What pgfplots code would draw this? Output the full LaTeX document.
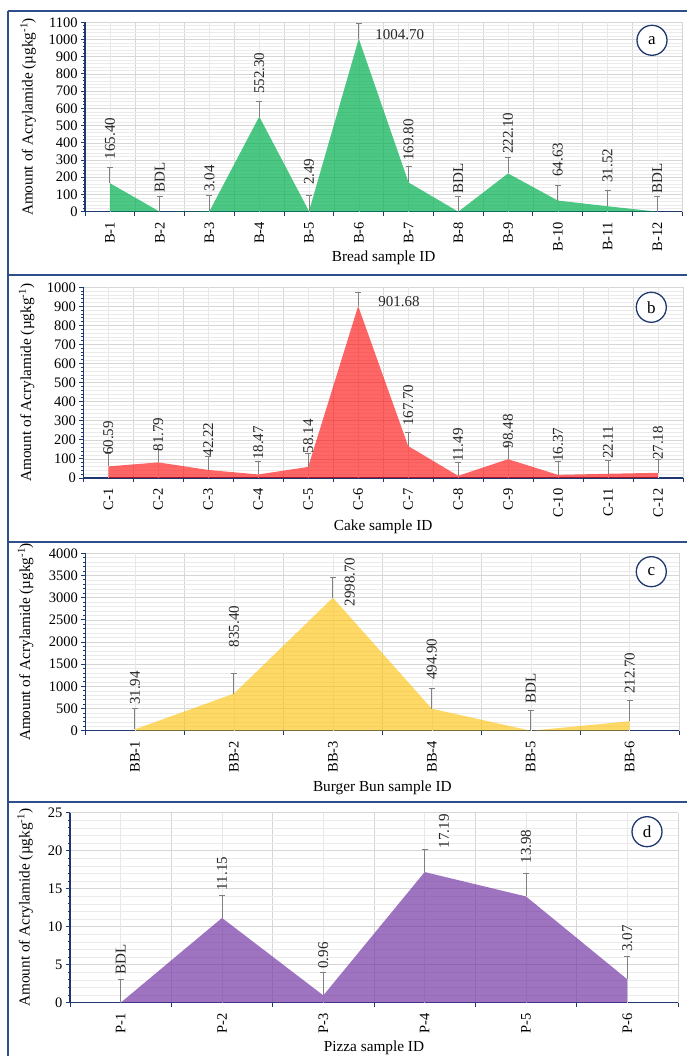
\documentclass[border=0pt]{standalone}
\usepackage{pgfplots}
\pgfplotsset{compat=1.18}
\usepackage{pgfplotstable}
\usepackage{fontspec}
\setmainfont{Liberation Serif}
\definecolor{navy}{RGB}{31,56,110}
\definecolor{framec}{RGB}{47,78,140}
\definecolor{ebar}{RGB}{128,128,128}
\definecolor{cgreen}{RGB}{0,176,80}
\definecolor{cred}{RGB}{255,0,0}
\definecolor{cyellow}{RGB}{255,192,0}
\definecolor{cpurple}{RGB}{112,48,160}

% ---------------- data ----------------
\pgfplotstableread{
x y e
0 165.40 90
1 0 90
2 3.04 90
3 552.30 90
4 2.49 90
5 1004.70 90
6 169.80 90
7 0 90
8 222.10 90
9 64.63 90
10 31.52 90
11 0 90
}\bread
\pgfplotstableread{
x ly lab
0 304 165.40
1 110 BDL
2 116 3.04
3 683 552.30
4 155 2.49
6 296 169.80
7 103 BDL
8 335 222.10
9 203 64.63
10 168 31.52
11 103 BDL
}\breadlab

\pgfplotstableread{
x y e
0 60.59 70
1 81.79 70
2 42.22 70
3 18.47 70
4 58.14 70
5 901.68 70
6 167.70 70
7 11.49 70
8 98.48 70
9 16.37 70
10 22.11 70
11 27.18 70
}\cake
\pgfplotstableread{
x ly lab
0 120 60.59
1 138 81.79
2 112 42.22
3 94 18.47
4 129 58.14
6 272 167.70
7 85 11.49
8 155 98.48
9 85 16.37
10 99 22.11
11 94 27.18
}\cakelab

\pgfplotstableread{
x y e
0 31.94 460
1 835.40 460
2 2998.70 460
3 494.90 460
4 0 460
5 212.70 460
}\bun
\pgfplotstableread{
x ly lab
0 580 31.94
1 1880 835.40
2.17 2797 2998.70
3 1143 494.90
4 617 BDL
5 828 212.70
}\bunlab

\pgfplotstableread{
x y e
0 0 3
1 11.15 3
2 0.96 3
3 17.19 3
4 13.98 3
5 3.07 3
}\pizza
\pgfplotstableread{
x ly lab
0 3.7 BDL
1 14.8 11.15
2 4.45 0.96
3.19 20.3 17.19
4 18.3 13.98
5 6.7 3.07
}\pizzalab

\pgfplotsset{
  panel/.style={
    scale only axis, anchor=south west,
    axis x line*=bottom, axis y line*=left,
    axis line style={navy, line width=1.6pt},
    ymin=0, clip=false,
    xticklabels={},
    tick align=outside,
    major tick length=4pt, minor tick length=2.5pt,
    tick style={navy, line width=0.9pt},
    minor y tick num=4,
    ymajorgrids, yminorgrids, xmajorgrids,
    major grid style={black!16, line width=0.6pt},
    minor grid style={black!8, line width=0.5pt},
    extra x tick style={major tick length=0pt, major grid style={black!9, line width=0.5pt}},
    xticklabel style={rotate=90, anchor=east},
    xticklabel shift=7pt,
    font=\fontsize{14.5}{16}\selectfont,
    label style={font=\fontsize{15.3}{17}\selectfont},
    /pgf/number format/assume math mode=true,
    /pgf/number format/1000 sep={},
    scaled y ticks=false,
    ylabel={Amount of Acrylamide (µgkg\textsuperscript{-1})},
  },
  ebars/.style={draw=none, mark=none,
    error bars/.cd, y dir=plus, y explicit,
    error bar style={draw=ebar, line width=1pt},
    error mark options={draw=ebar, line width=1pt, mark size=3pt, rotate=90}},
  vlab/.style={draw=none, mark=none, nodes near coords, point meta=explicit symbolic,
    every node near coord/.style={rotate=90, anchor=west, inner sep=0pt, font=\fontsize{15}{16}\selectfont, text=black!85}},
  hlab/.style={draw=none, mark=none, nodes near coords, point meta=explicit symbolic,
    every node near coord/.style={anchor=west, inner sep=0pt, font=\fontsize{15}{16}\selectfont, text=black!85}},
}

\begin{document}
\begin{tikzpicture}
\useasboundingbox (0pt,0pt) rectangle (686pt,1056pt);

% ---------- (a) Bread ----------
\begin{axis}[panel, at={(85.1pt,844.3pt)}, width=597.1pt, height=189.4pt,
  xmin=-0.5, xmax=11.5, ymax=1100, ytick={0,100,...,1100},
  xtick={-0.5,0.5,...,11.5},
  extra x ticks={0,1,...,11},
  extra x tick labels={B-1,B-2,B-3,B-4,B-5,B-6,B-7,B-8,B-9,B-10,B-11,B-12},
  xlabel={Bread sample ID},
  xlabel style={at={(axis description cs:0.5,-0.2445)}, anchor=center},
  ylabel style={at={(axis description cs:-0.0955,0.5)}, anchor=center},
]
\addplot[draw=none, fill=cgreen, fill opacity=0.7] table[x=x,y=y] {\bread} \closedcycle;
\addplot[ebars] table[x=x,y=y,y error=e] {\bread};
\addplot[vlab] table[x=x,y=ly,meta=lab] {\breadlab};
\addplot[hlab] coordinates {(5.33,1030) [1004.70]};
\end{axis}

% ---------- (b) Cake ----------
\begin{axis}[panel, at={(83.3pt,578pt)}, width=599.7pt, height=190.7pt,
  xmin=-0.5, xmax=11.5, ymax=1000, ytick={0,100,...,1000},
  xtick={-0.5,0.5,...,11.5},
  extra x ticks={0,1,...,11},
  extra x tick labels={C-1,C-2,C-3,C-4,C-5,C-6,C-7,C-8,C-9,C-10,C-11,C-12},
  xlabel={Cake sample ID},
  xlabel style={at={(axis description cs:0.5,-0.255)}, anchor=center},
  ylabel style={at={(axis description cs:-0.0944,0.5)}, anchor=center},
]
\addplot[draw=none, fill=cred, fill opacity=0.6] table[x=x,y=y] {\cake} \closedcycle;
\addplot[ebars] table[x=x,y=y,y error=e] {\cake};
\addplot[vlab] table[x=x,y=ly,meta=lab] {\cakelab};
\addplot[hlab] coordinates {(5.40,924) [901.68]};
\end{axis}

% ---------- (c) Burger bun ----------
\begin{axis}[panel, at={(85.5pt,325.3pt)}, width=593.7pt, height=177.4pt,
  xmin=-0.5, xmax=5.5, ymax=4000, ytick={0,500,...,4000},
  xtick={-0.5,0.5,...,5.5},
  extra x ticks={0,1,...,5},
  extra x tick labels={BB-1,BB-2,BB-3,BB-4,BB-5,BB-6},
  xlabel={Burger Bun sample ID},
  xlabel style={at={(axis description cs:0.5,-0.323)}, anchor=center},
  ylabel style={at={(axis description cs:-0.1007,0.5)}, anchor=center},
]
\addplot[draw=none, fill=cyellow, fill opacity=0.6] table[x=x,y=y] {\bun} \closedcycle;
\addplot[ebars] table[x=x,y=y,y error=e] {\bun};
\addplot[vlab] table[x=x,y=ly,meta=lab] {\bunlab};
\end{axis}

% ---------- (d) Pizza ----------
\begin{axis}[panel, at={(70pt,53.3pt)}, width=608pt, height=190pt,
  xmin=-0.5, xmax=5.5, ymax=25, ytick={0,5,...,25},
  xtick={-0.5,0.5,...,5.5},
  extra x ticks={0,1,...,5},
  extra x tick labels={P-1,P-2,P-3,P-4,P-5,P-6},
  xlabel={Pizza sample ID},
  xlabel style={at={(axis description cs:0.5,-0.238)}, anchor=center},
  ylabel style={at={(axis description cs:-0.074,0.5)}, anchor=center},
]
\addplot[draw=none, fill=cpurple, fill opacity=0.68] table[x=x,y=y] {\pizza} \closedcycle;
\addplot[ebars] table[x=x,y=y,y error=e] {\pizza};
\addplot[vlab] table[x=x,y=ly,meta=lab] {\pizzalab};
\end{axis}

% ---------- panel frames ----------
\draw[framec, line width=1.8pt] (8.3pt,1045.3pt) -- (700pt,1045.3pt);
\draw[framec, line width=1.8pt] (8.3pt,781pt) -- (700pt,781pt);
\draw[framec, line width=1.8pt] (8.3pt,514.3pt) -- (700pt,514.3pt);
\draw[framec, line width=1.8pt] (8.3pt,254.3pt) -- (700pt,254.3pt);
\draw[framec, line width=1.8pt] (8.3pt,1045.3pt) -- (8.3pt,-10pt);

% ---------- panel letters ----------
\foreach \cx/\cy/\t in {652/1015.7/a, 651.3/748.7/b, 651.3/484.3/c, 647/224.3/d}{
  \draw[navy, line width=1.3pt, fill=white] (\cx pt,\cy pt) circle (15pt);
  \node[font=\fontsize{17}{18}\selectfont] at (\cx pt,\cy pt) {\t};
}
\end{tikzpicture}
\end{document}
